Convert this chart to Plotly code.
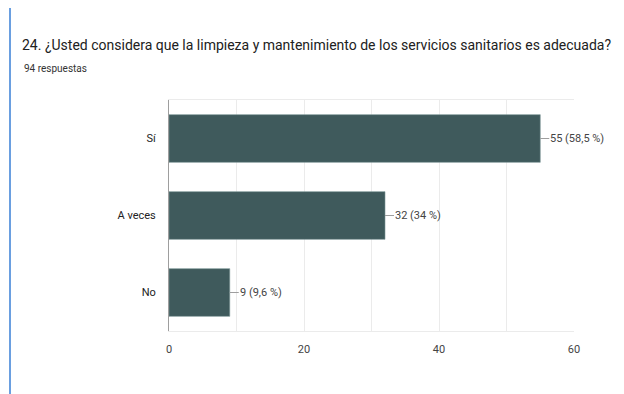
import plotly.graph_objects as go

categories = ["Sí", "A veces", "No"]
counts = [55, 32, 9]
percent_labels = ["58,5 %", "34 %", "9,6 %"]
x_tick_vals = [0, 20, 40, 60]
title_text = "24. ¿Usted considera que la limpieza y mantenimiento de los servicios sanitarios es adecuada?"
subtitle_text = "94 respuestas"

FONT = "Roboto, Arial, sans-serif"
OFF = 8  # page body margin
W, H = 624 - OFF, 394 - OFF
# reference plot area: x 169..574, y 100..331
L = 169 - OFF
R = W - (574 - OFF)
T = 100 - OFF
B = H - (331 - OFF)
pw, ph = W - L - R, H - T - B

def px_x(p):
    return (p - OFF - L) / pw

def px_y(p):
    return (H - B - (p - OFF)) / ph

fig = go.Figure()
fig.add_trace(go.Bar(
    x=counts, y=categories, orientation="h",
    marker=dict(color="#3f5a5c", line=dict(color="#7a9496", width=0.6)),
    width=0.62, hoverinfo="skip",
))

for c, v, p in zip(categories, counts, percent_labels):
    fig.add_annotation(
        x=v, y=c, xref="x", yref="y",
        text=f"{v} ({p})", showarrow=True, arrowhead=0, arrowwidth=1,
        arrowcolor="#9e9e9e", ax=9, ay=0, xanchor="left",
        font=dict(family=FONT, size=11, color="#444444"),
        borderpad=0,
    )

fig.add_annotation(
    x=px_x(22), y=px_y(68), xref="paper", yref="paper",
    text=subtitle_text, showarrow=False, xanchor="left", yanchor="middle",
    font=dict(family=FONT, size=10, color="#333333"),
)

# blue frame
fig.add_shape(type="line", xref="paper", yref="paper",
              x0=px_x(10), x1=px_x(10), y0=px_y(3), y1=px_y(400),
              line=dict(color="#6a9fe0", width=2))
fig.add_shape(type="line", xref="paper", yref="paper",
              x0=px_x(9), x1=px_x(640), y0=px_y(3.5), y1=px_y(3.5),
              line=dict(color="#6a9fe0", width=2))

fig.update_layout(
    width=W, height=H,
    margin=dict(l=L, r=R, t=T, b=B, pad=0),
    paper_bgcolor="white", plot_bgcolor="white",
    showlegend=False,
    title=dict(text=title_text, x=(22 - OFF) / W, xanchor="left", xref="container",
               y=1 - (45 - OFF) / H, yanchor="middle", yref="container",
               font=dict(family=FONT, size=14, color="#212121")),
    xaxis=dict(range=[0, 60], tickvals=x_tick_vals, showgrid=True,
               gridcolor="#ebebeb", gridwidth=1, zeroline=False,
               minor=dict(dtick=10, tick0=0, showgrid=True, gridcolor="#ebebeb"),
               showline=True, mirror=True, linecolor="#ebebeb", linewidth=1,
               ticks="", ticklabelstandoff=8,
               tickfont=dict(family=FONT, size=11, color="#444444")),
    yaxis=dict(autorange="reversed", showgrid=False, zeroline=False,
               showline=True, linecolor="#9e9e9e", linewidth=1,
               ticks="", ticklabelstandoff=10,
               tickfont=dict(family=FONT, size=11, color="#222222")),
)

fig.write_html("out.html")
